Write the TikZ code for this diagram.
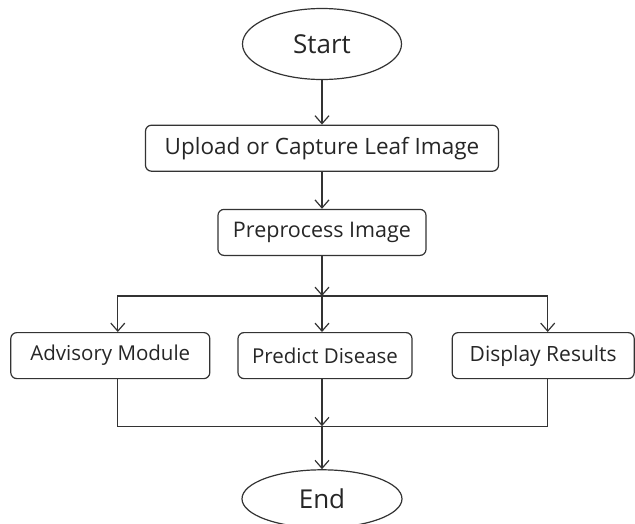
\documentclass[tikz,border=0pt]{standalone}
\usepackage{fontspec}
\setmainfont{Open Sans}
\usepackage{tikz}
\usetikzlibrary{arrows.meta}
\usetikzlibrary{positioning}
\usetikzlibrary{shapes.geometric}
\definecolor{linegray}{HTML}{333333}
\tikzset{main node/.style={rectangle,rounded corners=6pt,draw=linegray,line width=1.2pt,fill=white,minimum height=46pt,inner sep=0pt,font=\fontsize{20.5}{24}\selectfont,text=black!85}}
\tikzset{term node/.style={ellipse,draw=linegray,line width=1.2pt,fill=white,inner sep=0pt,font=\fontsize{26}{30}\selectfont,text=black!85}}

\begin{document}
\begin{tikzpicture}[>={Straight Barb[length=8pt,width=14pt]},x=1pt,y=1pt]
	\useasboundingbox (-322,44) rectangle (313,-479);
	\node[term node,minimum width=159pt,minimum height=71pt] (start) at (0,0) {Start};
	\node[main node,minimum width=353pt,font=\fontsize{22.5}{26}\selectfont] (upload) [below = 44.5pt of start] {Upload or Capture Leaf Image};
	\node[main node,minimum width=208pt,font=\fontsize{21.5}{25}\selectfont] (prep) [below = 37pt of upload] {Preprocess Image};
	\node[main node,minimum width=174pt] (pred) [below = 76pt of prep,xshift=3pt] {Predict Disease};
	\node[main node,minimum width=199pt] (adv) [left = 27pt of pred] {Advisory Module};
	\node[main node,minimum width=182pt,font=\fontsize{21}{25}\selectfont] (disp) [right = 39pt of pred] {Display Results};
	\coordinate (split) at ([yshift=-40pt]prep.south);
	\coordinate (merge) at ([yshift=-47pt]pred.south -| start);
	\node[term node,minimum width=160pt,minimum height=58pt] (stop) [below = 43pt of merge] {End};

	% top part
	\path [->,draw=linegray,line width=1.2pt]
	(start) edge (upload)
	(upload) edge (prep)
	(prep) edge (split);

	% branches
	\draw [->,linegray,line width=1.2pt] (split) -| ([xshift=7.5pt]adv.north);
	\draw [->,linegray,line width=1.2pt] (split) -| ([xshift=4.5pt]disp.north);
	\draw [->,linegray,line width=1.2pt] (split) -- (split |- pred.north);

	% join
	\draw [linegray,line width=1.2pt] ([xshift=7.5pt]adv.south) |- (merge);
	\draw [linegray,line width=1.2pt] ([xshift=4.5pt]disp.south) |- (merge);
	\draw [->,linegray,line width=1.2pt] (merge |- pred.south) -- (merge);
	\draw [->,linegray,line width=1.2pt] (merge) -- (stop);
\end{tikzpicture}
\end{document}
